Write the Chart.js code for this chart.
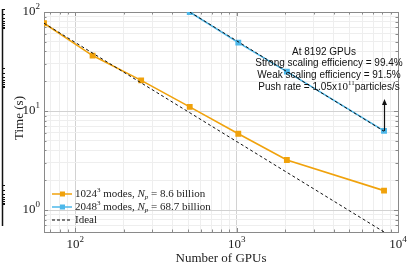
<!DOCTYPE html>
<html>
<head>
<meta charset="utf-8">
<script src="https://cdn.jsdelivr.net/npm/chart.js@4/dist/chart.umd.min.js"></script>
<style>
  html, body { margin: 0; padding: 0; background: #fff; }
  #wrap { position: relative; width: 408px; height: 266px; }
</style>
</head>
<body>
<div id="wrap"><canvas id="scalingChart" width="408" height="266"></canvas></div>
<script>
// data
const gpus1024 = [64, 128, 256, 512, 1024, 2048, 8192];
const time1024 = [77, 36.3, 20.4, 11, 5.9, 3.2, 1.57];
const gpus2048 = [512, 1024, 2048, 8192];
const time2048 = [100, 49, 25, 6.3];
const idealGpus1 = [64, 8192];
const ideal1 = [77, 0.6];
const idealGpus2 = [512, 8192];
const ideal2 = [100, 6.25];

const xTickLabels = [100, 1000, 10000];
const yTickLabels = [1, 10, 100];

const orange = "#F0A20C";
const blue = "#4DB8EA";
const serif = "'Liberation Serif', 'DejaVu Serif', serif";
const sans = "'Liberation Sans', Arial, sans-serif";

function pts(xs, ys) {
  return xs.map((x, i) => ({ x: x, y: ys[i] }));
}

function logTicks(lo, hi) {
  const out = [];
  for (let e = -1; e <= 4; e++) {
    for (let m = 1; m <= 9; m++) {
      const v = m * Math.pow(10, e);
      if (v >= lo - 1e-9 && v <= hi + 1e-9) out.push({ value: v });
    }
  }
  return out;
}

function isDecade(v) {
  const l = Math.log10(v);
  return Math.abs(l - Math.round(l)) < 1e-6;
}

// draw 10^n with superscript
function drawPow(ctx, base, exp, x, y, align) {
  ctx.font = "13px " + serif;
  const wb = ctx.measureText(base).width;
  ctx.font = "9px " + serif;
  const we = ctx.measureText(exp).width;
  let left = x;
  if (align === "center") left = x - (wb + we) / 2;
  if (align === "right") left = x - wb - we;
  ctx.textAlign = "left";
  ctx.textBaseline = "middle";
  ctx.font = "13px " + serif;
  ctx.fillText(base, left, y);
  ctx.font = "9px " + serif;
  ctx.fillText(exp, left + wb, y - 5);
}

// pieces of text: [text, font, dy]
function drawRich(ctx, parts, x, y) {
  let cx = x;
  ctx.textAlign = "left";
  ctx.textBaseline = "middle";
  parts.forEach(p => {
    ctx.font = p[1];
    ctx.fillText(p[0], cx, y + (p[2] || 0));
    cx += ctx.measureText(p[0]).width;
  });
  return cx;
}

const decorPlugin = {
  id: "decor",
  beforeDatasetsDraw(chart) {
    const ctx = chart.ctx;
    const a = chart.chartArea;
    const xs = chart.scales.x, ys = chart.scales.y;
    ctx.save();
    ctx.strokeStyle = "#8a8a8a";
    ctx.lineWidth = 1;
    // inward ticks on all four sides
    xs.ticks.forEach(t => {
      const px = Math.round(xs.getPixelForValue(t.value)) + 0.5;
      const len = isDecade(t.value) ? 4 : 2.5;
      ctx.beginPath();
      ctx.moveTo(px, a.bottom); ctx.lineTo(px, a.bottom - len);
      ctx.moveTo(px, a.top); ctx.lineTo(px, a.top + len);
      ctx.stroke();
    });
    ys.ticks.forEach(t => {
      const py = Math.round(ys.getPixelForValue(t.value)) + 0.5;
      const len = isDecade(t.value) ? 4 : 2.5;
      ctx.beginPath();
      ctx.moveTo(a.left, py); ctx.lineTo(a.left + len, py);
      ctx.moveTo(a.right, py); ctx.lineTo(a.right - len, py);
      ctx.stroke();
    });
    ctx.strokeRect(Math.round(a.left) + 0.5, Math.round(a.top) + 0.5,
      Math.round(a.right - a.left), Math.round(a.bottom - a.top));
    ctx.restore();
  },
  afterDatasetsDraw(chart) {
    const ctx = chart.ctx;
    const a = chart.chartArea;
    const xs = chart.scales.x, ys = chart.scales.y;
    ctx.save();
    ctx.fillStyle = "#222";
    // tick labels
    xTickLabels.forEach(v => {
      drawPow(ctx, "10", String(Math.round(Math.log10(v))), xs.getPixelForValue(v), a.bottom + 13, "center");
    });
    yTickLabels.forEach(v => {
      drawPow(ctx, "10", String(Math.round(Math.log10(v))), a.left - 4, ys.getPixelForValue(v), "right");
    });
    // axis titles
    ctx.font = "13px " + serif;
    ctx.textAlign = "center";
    ctx.textBaseline = "middle";
    ctx.fillText("Number of GPUs", (a.left + a.right) / 2, 259);
    ctx.save();
    ctx.translate(20, 118);
    ctx.rotate(-Math.PI / 2);
    ctx.fillText("Time (s)", 0, 0);
    ctx.restore();

    // legend
    const lx = a.left + 8, tx = lx + 23;
    const rows = [
      { color: orange, y: 194, parts: [["1024", "11px " + serif], ["3", "7px " + serif, -4], [" modes, ", "11px " + serif], ["N", "italic 11px " + serif], ["p", "italic 7px " + serif, 3], [" = 8.6 billion", "11px " + serif]] },
      { color: blue, y: 207, parts: [["2048", "11px " + serif], ["3", "7px " + serif, -4], [" modes, ", "11px " + serif], ["N", "italic 11px " + serif], ["p", "italic 7px " + serif, 3], [" = 68.7 billion", "11px " + serif]] },
      { color: "#000", y: 220, dash: true, parts: [["Ideal", "11px " + serif]] }
    ];
    rows.forEach(r => {
      ctx.save();
      ctx.strokeStyle = r.color;
      ctx.lineWidth = r.dash ? 1 : 1.5;
      if (r.dash) ctx.setLineDash([3, 2]);
      ctx.beginPath();
      ctx.moveTo(lx, r.y); ctx.lineTo(lx + 20, r.y);
      ctx.stroke();
      ctx.restore();
      if (!r.dash) {
        ctx.fillStyle = r.color;
        ctx.fillRect(lx + 8, r.y - 2.5, 5, 5);
      }
      ctx.fillStyle = "#222";
      drawRich(ctx, r.parts, tx, r.y);
    });

    // annotation
    ctx.fillStyle = "#111";
    ctx.font = "10px " + sans;
    ctx.textAlign = "center";
    ctx.textBaseline = "middle";
    const cx = 329;
    ctx.fillText("At 8192 GPUs", cx - 5, 52);
    ctx.fillText("Strong scaling efficiency = 99.4%", cx, 63);
    ctx.fillText("Weak scaling efficiency = 91.5%", cx, 75);
    const push = [["Push rate = 1.05x", "10px " + sans], ["10", "11px " + serif], ["11", "7px " + serif, -4], ["particles/s", "10px " + sans]];
    let w = 0;
    push.forEach(p => { ctx.font = p[1]; w += ctx.measureText(p[0]).width; });
    drawRich(ctx, push, cx - w / 2, 87);

    // arrow
    const ax = Math.round(xs.getPixelForValue(8192)) + 0.5;
    const y0 = ys.getPixelForValue(6.3);
    const y1 = ys.getPixelForValue(13.2);
    ctx.strokeStyle = "#111";
    ctx.lineWidth = 1.2;
    ctx.beginPath();
    ctx.moveTo(ax, y0); ctx.lineTo(ax, y1 + 3);
    ctx.stroke();
    ctx.beginPath();
    ctx.moveTo(ax, y1); ctx.lineTo(ax - 2.5, y1 + 6); ctx.lineTo(ax + 2.5, y1 + 6);
    ctx.closePath();
    ctx.fill();

    // edge of the neighbouring panel
    ctx.strokeStyle = "#111";
    ctx.lineWidth = 1.5;
    ctx.beginPath();
    ctx.moveTo(2.5, 9); ctx.lineTo(2.5, 226);
    ctx.stroke();
    ctx.lineWidth = 1;
    [9, 68, 185].forEach(base => {
      [0, 5, 9, 12, 14, 16, 18, 19].forEach(d => {
        const py = base + d * 1;
        if (py > 226) return;
        ctx.beginPath();
        ctx.moveTo(2, py + 0.5); ctx.lineTo(5, py + 0.5);
        ctx.stroke();
      });
    });
    ctx.restore();
  }
};

new Chart(document.getElementById("scalingChart").getContext("2d"), {
  type: "line",
  data: {
    datasets: [
      { label: "Ideal", data: pts(idealGpus1, ideal1), borderColor: "#111", borderWidth: 1, borderDash: [3, 2.5], pointRadius: 0, fill: false },
      { label: "Ideal 2", data: pts(idealGpus2, ideal2), borderColor: "#111", borderWidth: 1, borderDash: [3, 2.5], pointRadius: 0, fill: false },
      { label: "1024 modes", data: pts(gpus1024, time1024), borderColor: orange, backgroundColor: orange, borderWidth: 1.6, pointStyle: "rect", pointRadius: 3, fill: false },
      { label: "2048 modes", data: pts(gpus2048, time2048), borderColor: blue, backgroundColor: blue, borderWidth: 1.6, pointStyle: "rect", pointRadius: 3, fill: false }
    ]
  },
  options: {
    responsive: false,
    animation: false,
    layout: { padding: { left: 44, right: 10, top: 12, bottom: 34 } },
    plugins: { legend: { display: false }, tooltip: { enabled: false } },
    scales: {
      x: {
        type: "logarithmic",
        min: 64,
        max: 10000,
        afterBuildTicks: s => { s.ticks = logTicks(70, 10000); },
        ticks: { display: false },
        border: { display: false },
        grid: {
          drawTicks: false,
          color: c => isDecade(c.tick.value) ? "#d2d2d2" : "#eeeeee",
          lineWidth: 1
        }
      },
      y: {
        type: "logarithmic",
        min: 0.6,
        max: 100,
        afterBuildTicks: s => { s.ticks = logTicks(0.6, 100); },
        ticks: { display: false },
        border: { display: false },
        grid: {
          drawTicks: false,
          color: c => isDecade(c.tick.value) ? "#d2d2d2" : "#eeeeee",
          lineWidth: 1
        }
      }
    }
  },
  plugins: [decorPlugin]
});
</script>
</body>
</html>
